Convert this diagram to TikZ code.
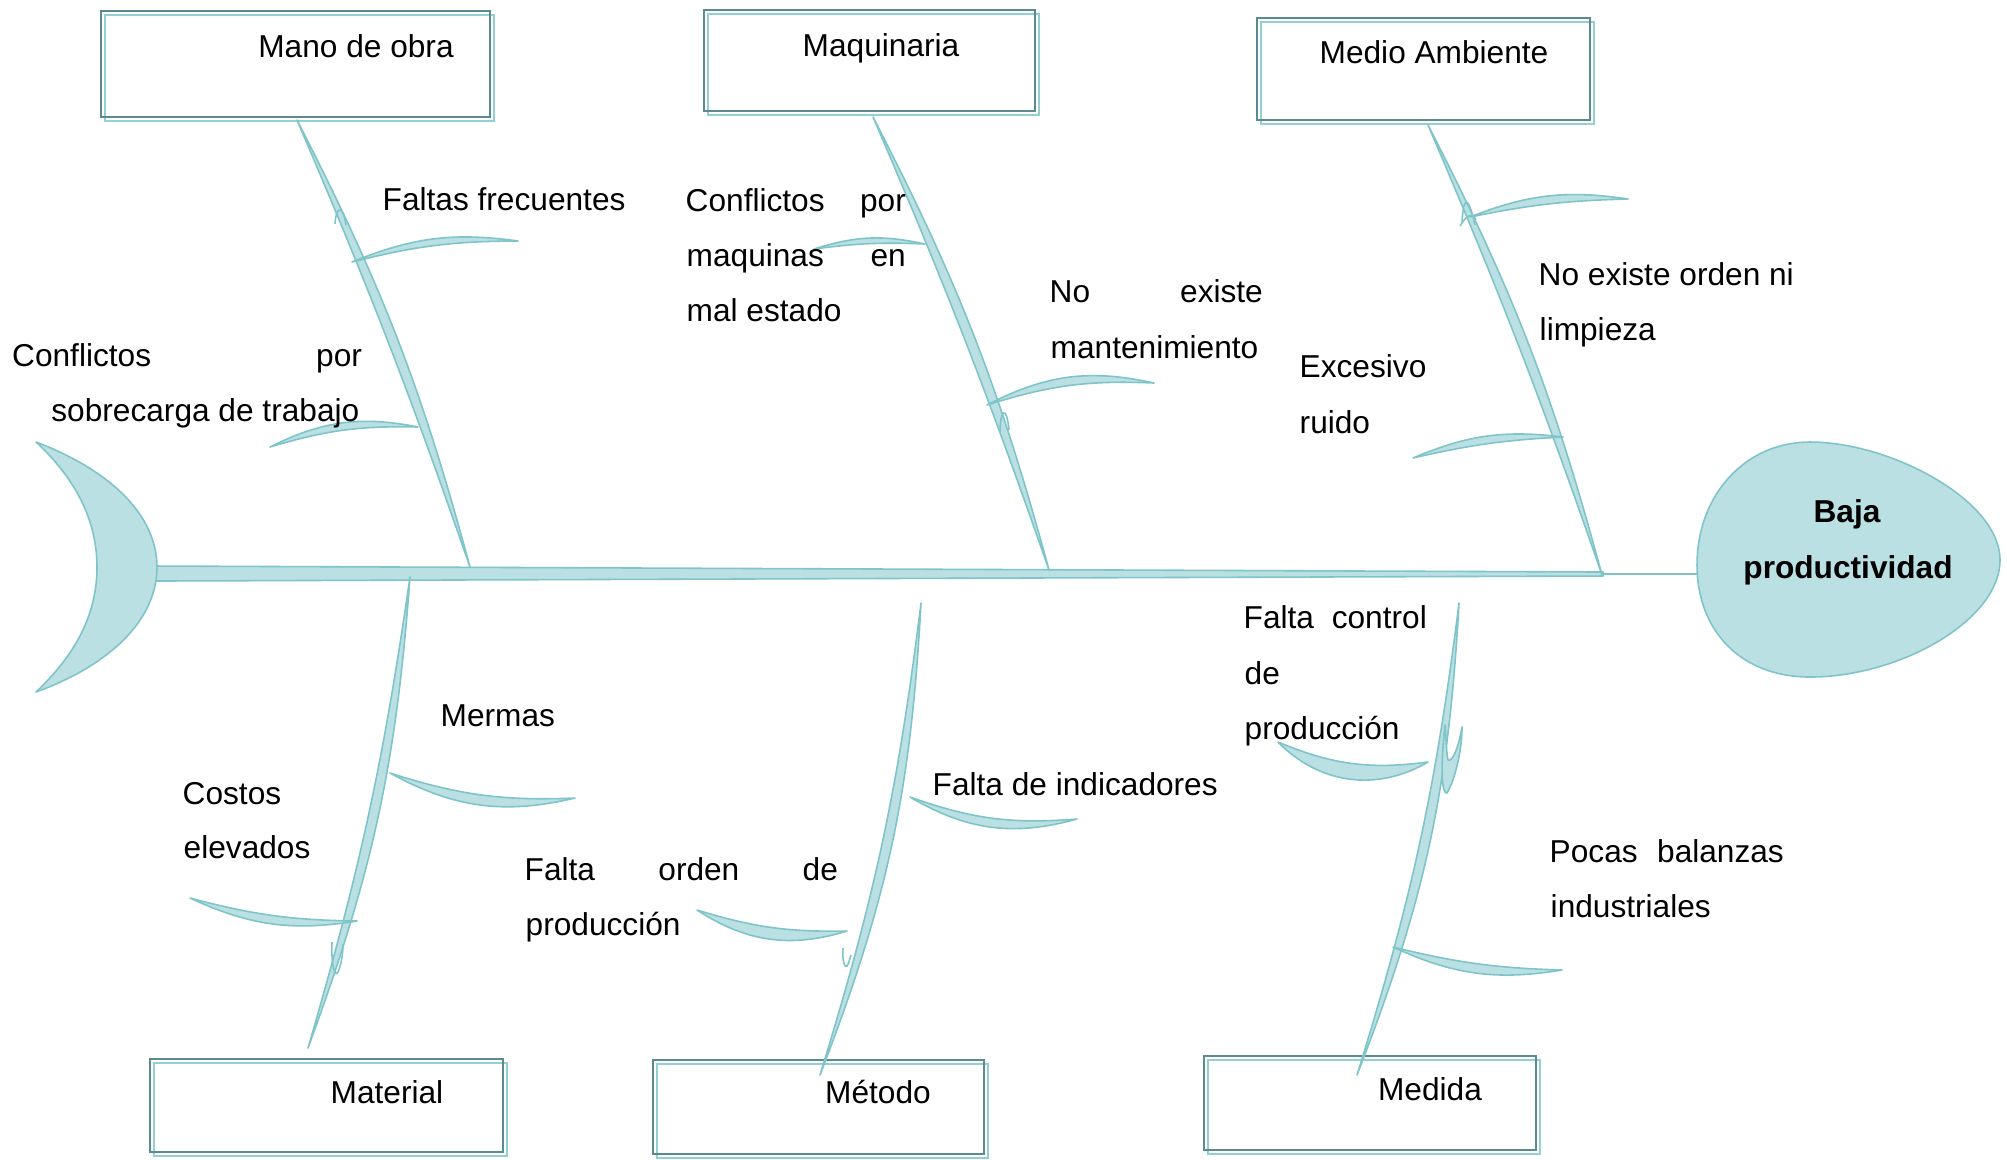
\documentclass[tikz,border=0pt]{standalone}
\usepackage{fontspec}
\setmainfont{Liberation Sans}
\usetikzlibrary{calc}

\definecolor{huesorelleno}{HTML}{BAE0E3}
\definecolor{huesoborde}{HTML}{7EC4C9}
\definecolor{marcooscuro}{HTML}{5B8B8E}
\definecolor{marcoclaro}{HTML}{93D0D5}

\tikzset{
  hueso/.style={fill=huesorelleno, draw=huesoborde, line width=0.45pt, line join=round},
  gancho/.style={draw=huesoborde, line width=0.45pt},
  marco/.style={draw=marcooscuro, line width=0.6pt},
  sombra/.style={draw=marcoclaro, line width=0.5pt},
  texto/.style={inner sep=0pt, anchor=base west, font=\fontsize{9}{15.6}\selectfont},
  rotulo/.style={inner sep=0pt, anchor=base, font=\fontsize{9}{15.6}\selectfont}
}

% espina curva entre dos puntos
\newcommand{\espina}[4]{\filldraw[hueso] #1 to[bend left=#3] #2 to[bend right=#4] #1 -- cycle;}

\begin{document}
\begin{tikzpicture}[x=0.01cm, y=0.01cm] %Diagrama de Ishikawa: baja productividad
    \useasboundingbox (0,0) rectangle (2007,-1159);

    \coordinate (T1) at (156,-566);
    \coordinate (T2) at (156,-581);
    \coordinate (T3) at (1603,-576);
    \coordinate (T4) at (1603,-572);
    \coordinate (H0) at (1603,-574);
    \coordinate (H) at (1697,-574);

    \coordinate (A1) at (297,-120);
    \coordinate (A2) at (470,-567);
    \coordinate (B1) at (873,-117);
    \coordinate (B2) at (1049,-570);
    \coordinate (C1) at (1428,-125);
    \coordinate (C2) at (1602,-575);

    \coordinate (D1) at (410,-577);
    \coordinate (D2) at (308,-1048);
    \coordinate (E1) at (921,-603);
    \coordinate (E2) at (820,-1075);
    \coordinate (F1) at (1459,-603);
    \coordinate (F2) at (1357,-1075);

    % cajas de las causas
    \foreach \xa/\ya/\xb/\yb in {101/11/490/117, 704/10/1035/111, 1257/18/1590/120,
                                 150/1059/503/1152, 653/1060/984/1154, 1204/1056/1536/1150}{
        \draw[sombra] (\xa+4,-\ya-4) rectangle (\xb+4,-\yb-4);
        \draw[marco] (\xa,-\ya) rectangle (\xb,-\yb);
    }

    % espina central
    \filldraw[hueso] (T1) -- (T4) -- (T3) -- (T2) -- cycle;
    \draw[gancho] (H0) -- (H);

    % cola
    \filldraw[hueso] (36,-442) .. controls (110,-470) and (157,-515) .. (157,-567)
        .. controls (157,-620) and (110,-665) .. (36,-692)
        .. controls (75,-655) and (97,-615) .. (97,-567)
        .. controls (97,-520) and (75,-478) .. cycle;

    % cabeza
    \filldraw[hueso] (1697,-565) .. controls (1697,-495) and (1745,-442) .. (1810,-442)
        .. controls (1890,-442) and (2000,-500) .. (2000,-560)
        .. controls (2000,-620) and (1900,-677) .. (1810,-677)
        .. controls (1740,-677) and (1697,-630) .. cycle;

    % espinas principales
    \espina{(A1)}{(A2)}{6}{2}
    \espina{(B1)}{(B2)}{6}{2}
    \espina{(C1)}{(C2)}{6}{2}
    \espina{(D1)}{(D2)}{8}{4}
    \espina{(E1)}{(E2)}{9}{5}
    \espina{(F1)}{(F2)}{9}{5}

    % espinas secundarias
    \espina{(352,-262)}{(518,-241)}{15}{7}
    \espina{(418,-427)}{(270,-447)}{-19}{-9}
    \espina{(925,-244)}{(814,-249)}{-15}{-5}
    \espina{(987,-405)}{(1154,-383)}{20}{10}
    \espina{(1470,-217)}{(1628,-199)}{15}{5}
    \espina{(1563,-437)}{(1413,-458)}{-15}{-5}
    \espina{(390,-773)}{(575,-798)}{-21}{-10}
    \espina{(357,-921)}{(190,-898)}{17}{7}
    \espina{(910,-797)}{(1077,-819)}{-23}{-12}
    \espina{(847,-931)}{(697,-910)}{25}{9}
    \espina{(1428,-762)}{(1278,-742)}{38}{15}
    \espina{(1393,-947)}{(1562,-970)}{-17}{-6}

    % ganchos
    \draw[gancho] (335,-224) .. controls (336,-206) and (343,-204) .. (346,-225);
    \draw[gancho] (1000,-432) .. controls (1000,-412) and (1006,-402) .. (1009,-430);
    \draw[gancho] (1462,-223) .. controls (1463,-200) and (1467,-190) .. (1475,-225);
    \draw[gancho] (1460,-226) .. controls (1468,-212) and (1474,-214) .. (1476,-220);
    \draw[gancho] (332,-942) .. controls (331,-965) and (335,-978) .. (338,-972)
        .. controls (341,-965) and (343,-955) .. (343,-944);
    \draw[gancho] (843,-948) .. controls (842,-962) and (845,-968) .. (847,-966)
        .. controls (849,-963) and (850,-958) .. (851,-955);
    \filldraw[hueso] (1445,-725) .. controls (1440,-770) and (1442,-795) .. (1447,-793)
        .. controls (1455,-780) and (1462,-750) .. (1462,-727)
        .. controls (1458,-750) and (1452,-762) .. (1448,-760)
        .. controls (1446,-750) and (1446,-735) .. cycle;

    % rotulos de las cajas
    \node[rotulo] (manoobra) at (356,-57.5) {Mano de obra};
    \node[rotulo] (maquinaria) at (881,-56) {Maquinaria};
    \node[rotulo] (ambiente) at (1434,-63.5) {Medio Ambiente};
    \node[rotulo] (material) at (387,-1103) {Material};
    \node[rotulo] (metodo) at (878,-1103) {Método};
    \node[rotulo] (medida) at (1430,-1100) {Medida};

    % efecto
    \node[rotulo, font=\fontsize{9}{15.6}\selectfont\bfseries] (baja) at (1847,-522) {Baja};
    \node[rotulo, font=\fontsize{9}{15.6}\selectfont\bfseries] (productividad) at (1848,-578) {productividad};

    % causas
    \node[texto] (faltas) at (382,-210.7) {Faltas frecuentes};
    \node[texto] (sobrecargaA) at (11.5,-366.7) {\makebox[3.495cm][s]{Conflictos por}};
    \node[texto, anchor=base east] (sobrecargaB) at (360,-421) {sobrecarga de trabajo};
    \node[texto] (maquinasA) at (685,-211) {\makebox[2.20cm][s]{Conflictos por}};
    \node[texto] (maquinasB) at (686,-266) {\makebox[2.19cm][s]{maquinas en}};
    \node[texto] (maquinasC) at (686,-321) {mal estado};
    \node[texto] (mantenA) at (1049,-302) {\makebox[2.13cm][s]{No existe}};
    \node[texto] (mantenB) at (1050,-358.5) {mantenimiento};
    \node[texto] (ordenA) at (1538,-285.5) {No existe orden ni};
    \node[texto] (ordenB) at (1539,-340.5) {limpieza};
    \node[texto] (ruidoA) at (1299,-377) {Excesivo};
    \node[texto] (ruidoB) at (1299,-433) {ruido};
    \node[texto] (mermas) at (440,-726.7) {Mermas};
    \node[texto] (costosA) at (182,-804) {Costos};
    \node[texto] (costosB) at (183,-858) {elevados};
    \node[texto] (prodA) at (524,-880.5) {\makebox[3.13cm][s]{Falta orden de}};
    \node[texto] (prodB) at (525,-935) {producción};
    \node[texto] (indicadores) at (932,-795) {Falta de indicadores};
    \node[texto] (controlA) at (1243,-628) {\makebox[1.83cm][s]{Falta control}};
    \node[texto] (controlB) at (1244,-684) {de};
    \node[texto] (controlC) at (1244,-739) {producción};
    \node[texto] (balanzasA) at (1549,-862) {\makebox[2.34cm][s]{Pocas balanzas}};
    \node[texto] (balanzasB) at (1550,-917) {industriales};
\end{tikzpicture}
\end{document}
